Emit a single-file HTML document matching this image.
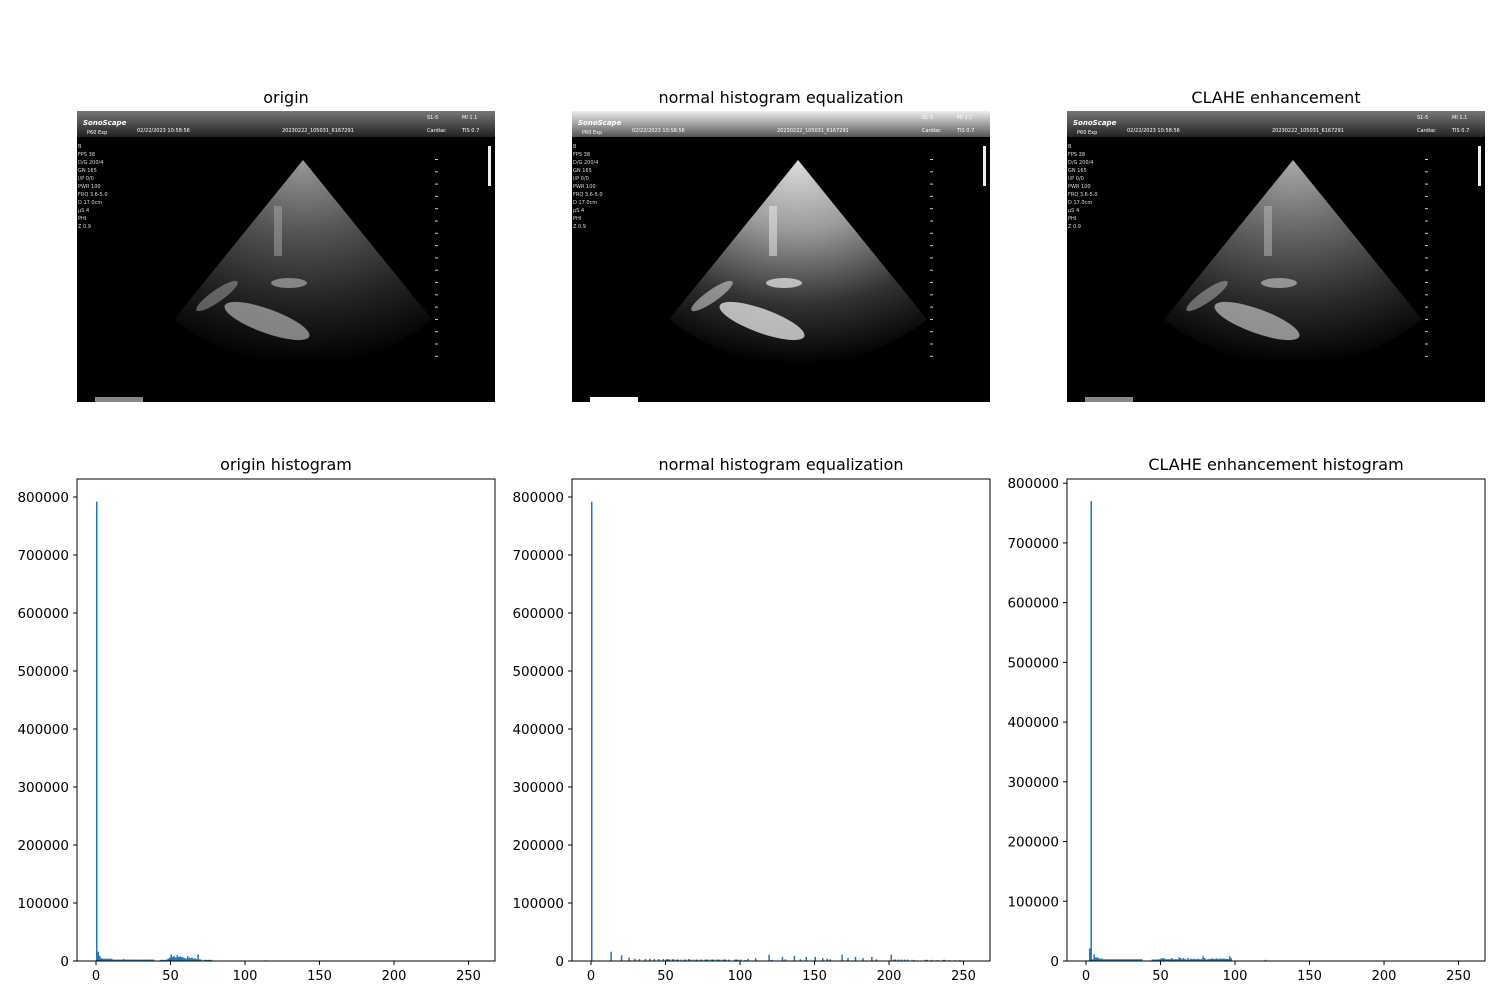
<!DOCTYPE html>
<html><head><meta charset="utf-8"><style>
body{margin:0;background:#fff;font-family:"Liberation Sans","DejaVu Sans",sans-serif;}
svg text{font-family:"DejaVu Sans","Liberation Sans",sans-serif;}
</style></head><body>
<svg id="fig" width="1500" height="1000" xmlns="http://www.w3.org/2000/svg">
<defs>
<linearGradient id="hdr1" x1="0" y1="0" x2="0" y2="1"><stop offset="0" stop-color="#777"/><stop offset="1" stop-color="#222"/></linearGradient>
<linearGradient id="hdr2" x1="0" y1="0" x2="0" y2="1"><stop offset="0" stop-color="#eee"/><stop offset="1" stop-color="#555"/></linearGradient>
<radialGradient id="fan1" cx="0.5" cy="0" r="1"><stop offset="0" stop-color="#999"/><stop offset="0.35" stop-color="#555"/><stop offset="0.7" stop-color="#222"/><stop offset="1" stop-color="#000"/></radialGradient>
<radialGradient id="fan2" cx="0.5" cy="0" r="1"><stop offset="0" stop-color="#ddd"/><stop offset="0.35" stop-color="#999"/><stop offset="0.7" stop-color="#333"/><stop offset="1" stop-color="#000"/></radialGradient>
<radialGradient id="fan3" cx="0.5" cy="0" r="1"><stop offset="0" stop-color="#aaa"/><stop offset="0.35" stop-color="#666"/><stop offset="0.7" stop-color="#2a2a2a"/><stop offset="1" stop-color="#000"/></radialGradient>
</defs>
<g id="images"></g>
<g id="hists"></g>
</svg>
<script>
// ---- histogram data: bins and counts ----
const originBins=[0,1,2,3,4,5,6,7,8,9,10,11,12,13,14,15,16,17,18,19,20,21,22,23,24,25,26,27,28,29,30,31,32,33,34,35,36,37,38,43,44,45,46,47,48,49,50,51,52,53,54,55,56,57,58,59,60,61,62,63,64,65,66,67,68,69,70,72,73,74,75,76,77,113];
const originCounts=[792000,16000,9000,5000,4000,4000,4000,4000,4000,4000,4000,2500,2500,2500,2500,2500,2500,2500,3500,2500,2500,2500,2500,2500,2500,2500,2500,2500,2500,2500,2500,2500,2500,2500,2500,2500,2500,2500,2500,2000,2000,2000,2000,2500,4000,6000,11000,7000,8000,6000,10000,7000,8000,7000,6000,5000,4000,8000,6000,5000,6000,4000,5000,3000,11000,3000,2500,2000,2000,2000,2000,2000,2000,1200];
const equalBins=[0,13,20,25,29,32,36,39,42,45,48,50,51,52,54,55,57,58,60,62,63,65,66,68,70,71,73,74,76,77,78,80,81,82,84,85,86,88,89,90,92,96,97,98,100,103,105,110,119,121,128,130,136,140,144,150,155,158,160,168,172,177,182,188,191,201,203,204,206,208,210,212,216,224,225,228,232,236,237,240,244,247];
const equalCounts=[792000,16000,10000,6000,4000,3500,3500,4000,3500,3500,3500,3000,3000,3000,3000,3000,2500,2500,2500,2500,2500,3500,2500,2500,2500,2500,2500,2500,2500,2500,2500,2500,2500,2500,2500,2500,2500,2500,2500,2500,2500,2500,2500,2500,2500,2000,4000,5000,11000,2000,7000,3000,9000,3000,7000,7000,5000,4000,3000,11000,5000,7000,5000,7000,3000,11000,2500,2500,2500,2500,2500,2500,2000,2000,2000,2000,1500,2000,2000,1500,1500,1500];
const claheBins=[2,3,4,5,6,7,8,9,10,11,12,13,14,15,16,17,18,19,20,21,22,23,24,25,26,27,28,29,30,31,32,33,34,35,36,37,44,45,46,47,48,49,50,51,52,53,54,55,56,57,58,59,60,61,62,63,64,65,66,67,68,69,70,71,72,73,74,75,76,77,78,79,80,81,82,83,84,85,86,87,88,89,90,91,92,93,94,95,96,97,120];
const claheCounts=[21000,770000,3000,11000,6000,6000,5000,3500,4500,3000,3000,3000,3000,3000,3000,3000,3000,3000,3000,3000,3000,3000,3000,3000,3000,3000,3000,3000,3000,3000,3000,3000,3000,3000,3000,3000,2500,2500,2500,2500,2500,3000,4500,4500,4500,3000,3000,3000,3000,5000,3000,3000,3000,3000,6000,5000,3000,5000,3000,2500,5000,2500,4000,3000,4000,3000,3500,3500,3000,3000,8000,5000,3000,2500,3500,3500,4500,3500,3500,4500,3500,3500,4500,3500,4500,3500,3500,3500,8000,4500,2000];
const xTicks=[0,50,100,150,200,250];
const yTicksA=[0,100000,200000,300000,400000,500000,600000,700000,800000];
const titlesTop=["origin","normal histogram equalization","CLAHE enhancement"];
const titlesBottom=["origin histogram","normal histogram equalization","CLAHE enhancement histogram"];

const NS="http://www.w3.org/2000/svg";
function mk(tag,attrs,parent){const e=document.createElementNS(NS,tag);for(const k in attrs)e.setAttribute(k,attrs[k]);parent.appendChild(e);return e;}
const lefts=[77,572,1067];

// ---- images ----
const gImg=document.getElementById('images');
const hdrs=['url(#hdr1)','url(#hdr2)','url(#hdr1)'];
const fans=['url(#fan1)','url(#fan2)','url(#fan3)'];
const blob=['#aaa','#eee','#bbb'];
lefts.forEach((L,i)=>{
  const t=mk('text',{x:L+209,y:103,'text-anchor':'middle','font-size':16,fill:'#000'},gImg);
  t.textContent=titlesTop[i];
  
  
  const g=mk('g',{transform:`translate(${L},111)`},gImg);
  
  
  mk('rect',{x:0,y:0,width:418,height:291,fill:'#000'},g);
  mk('rect',{x:0,y:0,width:418,height:26,fill:hdrs[i]},g);
  const tx=[[6,14,'SonoScape',7,'bold'],[10,23,'P60 Exp',5],[60,21,'02/22/2023 10:58:56',5],[205,21,'20230222_105031_6167291',5],[350,8,'S1-5',5],[385,8,'MI 1.1',5],[350,21,'Cardiac',5],[385,21,'TIS 0.7',5]];
  tx.forEach(a=>{const e=mk('text',{x:a[0],y:a[1],'font-size':a[3],fill:'#fff','font-weight':a[4]||'normal','font-style':a[4]?'italic':'normal'},g);e.textContent=a[2];});
  const lbl=['B','FPS 38','D/G 200/4','GN 165','I/P 0/0','PWR 100','FRQ 3.6-5.0','D 17.0cm','μS 4','PHI','Z 0.9'];
  lbl.forEach((s,k)=>{const e=mk('text',{x:1,y:37+k*8,'font-size':5,fill:'#ddd'},g);e.textContent=s;});
  const ax=226,ay=49,R=205,a=39*Math.PI/180;
  const x1=ax-R*Math.sin(a),y1=ay+R*Math.cos(a),x2=ax+R*Math.sin(a),y2=y1;
  mk('path',{d:`M${ax},${ay} L${x1},${y1} A${R},${R} 0 0 0 ${x2},${y2} Z`,fill:fans[i]},g);
  mk('ellipse',{cx:190,cy:210,rx:45,ry:12,fill:blob[i],opacity:0.75,transform:'rotate(20 190 210)'},g);
  mk('ellipse',{cx:140,cy:185,rx:25,ry:6,fill:blob[i],opacity:0.5,transform:'rotate(-35 140 185)'},g);
  mk('rect',{x:197,y:95,width:8,height:50,fill:blob[i],opacity:0.5},g);
  mk('ellipse',{cx:212,cy:172,rx:18,ry:5,fill:blob[i],opacity:0.7},g);
  mk('rect',{x:411,y:35,width:3,height:40,fill:'#eee'},g);
  for(let k=0;k<17;k++){mk('rect',{x:358,y:48+k*12.3,width:3,height:1,fill:'#ccc'},g);}
  mk('rect',{x:18,y:286,width:48,height:5,fill:i==1?'#fff':'#888'},g);
});

// ---- histograms ----
const gH=document.getElementById('hists');
const dataSets=[[originBins,originCounts,831000],[equalBins,equalCounts,831000],[claheBins,claheCounts,807000]];
const T=479,B=961,W=418,X0=-12.75,X1=267.75;
lefts.forEach((L,i)=>{
  const [bins,counts,ymax]=dataSets[i];
  const xs=v=>L+(v-X0)/(X1-X0)*W;
  const ys=v=>B-v/ymax*(B-T);
  const t=mk('text',{x:L+209,y:470,'text-anchor':'middle','font-size':16,fill:'#000'},gH);
  t.textContent=titlesBottom[i];
  
  
  const g=mk('g',{},gH);
  
  
  bins.forEach((b,k)=>{
    const r=mk('rect',{x:xs(b),y:ys(counts[k]),width:Math.max(1.2,xs(b+1)-xs(b)),height:B-ys(counts[k]),fill:'#1f77b4'},g);
    
    
  });
  const fr=mk('rect',{x:L,y:T,width:W,height:B-T,fill:'none',stroke:'#000','stroke-width':1},g);
  
  
  xTicks.forEach(v=>{
    mk('line',{x1:xs(v),x2:xs(v),y1:B,y2:B+4,stroke:'#000'},g);
    const e=mk('text',{x:xs(v),y:B+19,'text-anchor':'middle','font-size':13},g);
    e.textContent=v;
    
    
  });
  yTicksA.forEach(v=>{
    if(v>ymax)return;
    mk('line',{x1:L-4,x2:L,y1:ys(v),y2:ys(v),stroke:'#000'},g);
    const e=mk('text',{x:L-8,y:ys(v)+5,'text-anchor':'end','font-size':13.5},g);
    e.textContent=v;
    
    
  });
});
</script>
</body></html>
